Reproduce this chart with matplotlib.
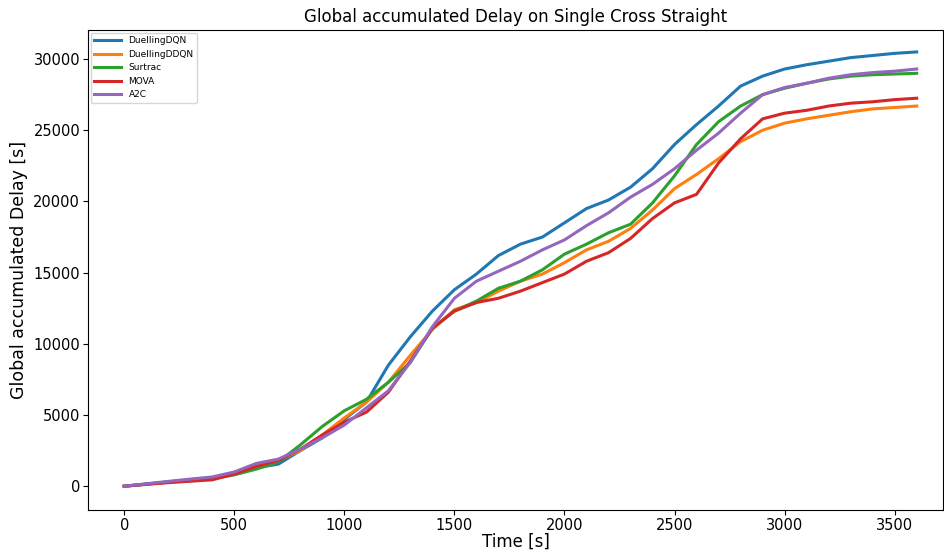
import matplotlib
matplotlib.use("Agg")
from matplotlib import pyplot as plt

time_s = list(range(0, 3700, 100))

duelling_dqn = [0, 150, 300, 450, 580, 900, 1300, 1550, 2500, 3400, 4700, 5900, 8500,
                10500, 12300, 13800, 14900, 16200, 17000, 17500, 18500, 19500, 20100,
                21000, 22300, 24000, 25400, 26700, 28100, 28800, 29300, 29600, 29850,
                30100, 30250, 30400, 30500]
duelling_ddqn = [0, 150, 300, 420, 560, 950, 1350, 1800, 2500, 3600, 4800, 5900, 7300,
                 9200, 11000, 12400, 12900, 13700, 14400, 14900, 15700, 16600, 17200,
                 18100, 19400, 20900, 21900, 23000, 24200, 25000, 25500, 25800, 26050,
                 26300, 26500, 26600, 26700]
surtrac = [0, 140, 280, 400, 520, 800, 1200, 1700, 2900, 4200, 5300, 6100, 7300,
           8700, 11100, 12300, 13000, 13900, 14400, 15200, 16300, 17000, 17800,
           18400, 19900, 21800, 24000, 25600, 26700, 27500, 27950, 28300, 28600,
           28800, 28900, 28950, 29000]
mova = [0, 130, 250, 350, 450, 850, 1400, 1800, 2600, 3600, 4500, 5200, 6600,
        8800, 11100, 12300, 12900, 13200, 13700, 14300, 14900, 15800, 16400,
        17400, 18800, 19900, 20500, 22700, 24400, 25800, 26200, 26400, 26700,
        26900, 27000, 27150, 27250]
a2c = [0, 170, 340, 500, 650, 1000, 1600, 1900, 2600, 3400, 4300, 5500, 6700,
       8700, 11200, 13200, 14400, 15100, 15800, 16600, 17300, 18300, 19200,
       20300, 21200, 22300, 23600, 24800, 26200, 27500, 28000, 28300, 28650,
       28900, 29050, 29150, 29300]

series = [
    ("DuellingDQN", duelling_dqn),
    ("DuellingDDQN", duelling_ddqn),
    ("Surtrac", surtrac),
    ("MOVA", mova),
    ("A2C", a2c),
]

fig = plt.figure(figsize=(9.45, 5.53), dpi=100)
ax = fig.add_axes([0.093, 0.077, 0.905, 0.869])

for name, values in series:
    ax.plot(time_s, values, label=name, linewidth=2.2)

ax.set_xlim(-165, 3720)
ax.set_ylim(-1700, 32050)
ax.set_xticks(range(0, 3600, 500))
ax.set_yticks(range(0, 30001, 5000))
ax.tick_params(labelsize=10.5, pad=2)

ax.set_title("Global accumulated Delay on Single Cross Straight", fontsize=12)
ax.set_xlabel("Time [s]", fontsize=12, labelpad=0)
ax.set_ylabel("Global accumulated Delay [s]", fontsize=12.5)
ax.legend(loc="upper left", fontsize=6.5, handlelength=3, borderaxespad=0.3)

fig.savefig("out.png", dpi=100)
